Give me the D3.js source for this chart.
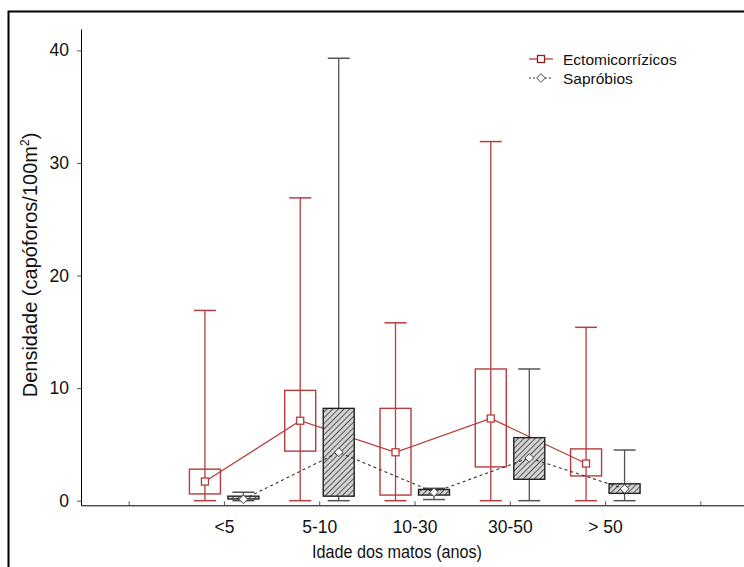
<!DOCTYPE html>
<html>
<head>
<meta charset="utf-8">
<script src="https://cdn.jsdelivr.net/npm/d3@7"></script>
<style>
  html, body { margin: 0; padding: 0; background: #fff; }
  svg { display: block; font-family: "Liberation Sans", Arial, sans-serif; }
</style>
</head>
<body>
<svg id="chart" width="744" height="567"></svg>
<script>
// Age classes of the stands
const categories = ["<5", "5-10", "10-30", "30-50", "> 50"];
const tickPositions = [0, 1, 2, 3, 4, 5, 6];
const yTicks = [0, 10, 20, 30, 40];

// Ectomycorrhizal fungi: min, Q1, mean, Q3, max (sporocarps / 100 m²)
const ectoMin  = [0, 0, 0, 0, 0];
const ectoQ1   = [0.6, 4.4, 0.5, 3.0, 2.2];
const ectoMean = [1.7, 7.1, 4.3, 7.3, 3.3];
const ectoQ3   = [2.8, 9.8, 8.2, 11.7, 4.6];
const ectoMax  = [16.9, 26.9, 15.8, 31.9, 15.4];

// Saprotrophic fungi
const sapMin  = [0, 0, 0.1, 0, 0];
const sapQ1   = [0.15, 0.4, 0.5, 1.9, 0.65];
const sapMean = [0.12, 4.3, 0.75, 3.8, 1.05];
const sapQ3   = [0.4, 8.2, 1.0, 5.6, 1.5];
const sapMax  = [0.75, 39.3, 1.1, 11.7, 4.5];

const RED = "#b83c3c";
const DARK = "#222";
const FONT = "Liberation Sans, Arial, sans-serif";

const svg = d3.select("#chart");

// outer frame
svg.append("rect")
  .attr("x", 8.5).attr("y", 11.5)
  .attr("width", 760).attr("height", 580)
  .attr("fill", "none").attr("stroke", "#000").attr("stroke-width", 2);

const x = d3.scaleLinear().domain([-0.5, 6.5]).range([81, 748]);
const y = d3.scaleLinear().domain([-0.41, 41.9]).range([505.3, 29]);

// hatch pattern for the saprotroph boxes
const defs = svg.append("defs");
const pat = defs.append("pattern")
  .attr("id", "hatch").attr("patternUnits", "userSpaceOnUse")
  .attr("width", 4).attr("height", 4)
  .attr("patternTransform", "rotate(45)");
pat.append("rect").attr("width", 4).attr("height", 4).attr("fill", "#d4d4d4");
pat.append("line").attr("x1", 0).attr("y1", 0).attr("x2", 0).attr("y2", 4)
  .attr("stroke", "#2a2a2a").attr("stroke-width", 1.5);

// axes
const xAxis = d3.axisBottom(x)
  .tickValues(tickPositions)
  .tickSizeInner(-4).tickSizeOuter(0)
  .tickPadding(15)
  .tickFormat(d => (d >= 1 && d <= 5) ? categories[d - 1] : "");
const gx = svg.append("g").attr("transform", `translate(0,${y(-0.41)})`).call(xAxis);
gx.select(".domain").attr("stroke", "#000");
gx.selectAll(".tick line").attr("stroke", "#555");
gx.selectAll("text").attr("font-size", 17.5).attr("fill", "#111").attr("font-family", FONT);

const yAxis = d3.axisLeft(y)
  .tickValues(yTicks).tickSizeInner(4).tickSizeOuter(0).tickPadding(8);
const gy = svg.append("g").attr("transform", `translate(81,0)`).call(yAxis);
gy.select(".domain").attr("stroke", "#000");
gy.selectAll(".tick line").attr("stroke", "#555");
gy.selectAll("text").attr("font-size", 17.5).attr("fill", "#111").attr("font-family", FONT);

// axis titles
svg.append("text")
  .attr("x", 397).attr("y", 558)
  .attr("text-anchor", "middle").attr("font-size", 17.5).attr("fill", "#111")
  .attr("textLength", 170).attr("lengthAdjust", "spacingAndGlyphs")
  .text("Idade dos matos (anos)");

const yt = svg.append("text")
  .attr("transform", "translate(37,265) rotate(-90)")
  .attr("text-anchor", "middle").attr("font-size", 20).attr("fill", "#111");
yt.append("tspan").text("Densidade (capóforos/100m");
yt.append("tspan").attr("font-size", 12).attr("dy", -8).text("2");
yt.append("tspan").attr("dy", 8).text(")");

const BW = 31, CAP = 22;
const offE = -19, offS = 19.5;

function drawBoxes(min, q1, q3, max, off, opts) {
  const g = svg.append("g");
  categories.forEach((c, i) => {
    const cx = x(i + 1) + off;
    // whisker
    g.append("line").attr("x1", cx).attr("x2", cx)
      .attr("y1", y(max[i])).attr("y2", y(min[i]))
      .attr("stroke", opts.whisker).attr("stroke-width", 1.3);
    [min[i], max[i]].forEach(v => {
      g.append("line").attr("x1", cx - CAP / 2).attr("x2", cx + CAP / 2)
        .attr("y1", y(v)).attr("y2", y(v))
        .attr("stroke", opts.whisker).attr("stroke-width", 1.5);
    });
    g.append("rect")
      .attr("x", cx - BW / 2).attr("width", BW)
      .attr("y", y(q3[i])).attr("height", Math.max(1, y(q1[i]) - y(q3[i])))
      .attr("fill", opts.fill).attr("stroke", opts.stroke).attr("stroke-width", 1.4);
  });
}

// ectomycorrhizal boxes
drawBoxes(ectoMin, ectoQ1, ectoQ3, ectoMax, offE, { whisker: RED, stroke: RED, fill: "none" });

// mean line, ectomycorrhizal
const line = d3.line().x(d => d[0]).y(d => d[1]);
svg.append("path")
  .datum(ectoMean.map((v, i) => [x(i + 1) + offE, y(v)]))
  .attr("d", line).attr("fill", "none").attr("stroke", RED).attr("stroke-width", 1.3);

// saprotroph boxes
drawBoxes(sapMin, sapQ1, sapQ3, sapMax, offS, { whisker: "#555", stroke: DARK, fill: "url(#hatch)" });

// mean line, saprotrophs
svg.append("path")
  .datum(sapMean.map((v, i) => [x(i + 1) + offS, y(v)]))
  .attr("d", line).attr("fill", "none").attr("stroke", "#333")
  .attr("stroke-width", 1.1).attr("stroke-dasharray", "3,3");

// mean markers
svg.append("g").selectAll("rect").data(ectoMean).join("rect")
  .attr("x", (d, i) => x(i + 1) + offE - 3.5).attr("y", d => y(d) - 3.5)
  .attr("width", 7).attr("height", 7)
  .attr("fill", "#fff").attr("stroke", RED).attr("stroke-width", 1.3);

const diamond = d3.symbol().type(d3.symbolDiamond2).size(48);
svg.append("g").selectAll("path").data(sapMean).join("path")
  .attr("transform", (d, i) => `translate(${x(i + 1) + offS},${y(d)})`)
  .attr("d", diamond)
  .attr("fill", "#fff").attr("stroke", "#444").attr("stroke-width", 1);

// legend
const lg = svg.append("g");
lg.append("line").attr("x1", 529).attr("x2", 553).attr("y1", 59).attr("y2", 59)
  .attr("stroke", RED).attr("stroke-width", 1.3);
lg.append("rect").attr("x", 537.5).attr("y", 55.5).attr("width", 7).attr("height", 7)
  .attr("fill", "#fff").attr("stroke", "#8e1f1f").attr("stroke-width", 1.3);
lg.append("text").attr("x", 563).attr("y", 64.5).attr("font-size", 15.5).attr("fill", "#111")
  .text("Ectomicorrízicos");
lg.append("line").attr("x1", 529).attr("x2", 553).attr("y1", 78).attr("y2", 78)
  .attr("stroke", "#333").attr("stroke-dasharray", "2,2");
lg.append("path").attr("transform", "translate(541,78)")
  .attr("d", diamond).attr("fill", "#fff").attr("stroke", "#444");
lg.append("text").attr("x", 563).attr("y", 83.5).attr("font-size", 15.5).attr("fill", "#111")
  .text("Sapróbios");
</script>
</body>
</html>
